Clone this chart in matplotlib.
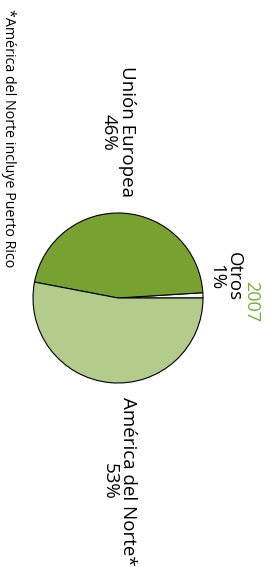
import matplotlib
matplotlib.use("Agg")
import matplotlib.pyplot as plt

# Export share by destination, 2007
labels = ["Otros", "Unión Europea", "América del Norte*"]
shares = [1, 46, 53]
colors = ["#f4f6f0", "#77a232", "#b3cb8b"]
year = "2007"
footnote = "*América del Norte incluye Puerto Rico"

plt.rcParams["font.family"] = ["Open Sans", "DejaVu Sans"]

fig = plt.figure(figsize=(2.68, 5.67), dpi=100)
ax = fig.add_axes([0, 0, 1, 1])
ax.set_xlim(0, 268)
ax.set_ylim(0, 567)
ax.set_aspect("equal")
ax.axis("off")

ax.pie(shares, colors=colors, startangle=0, counterclock=True,
       center=(118, 269), radius=85,
       wedgeprops={"edgecolor": "black", "linewidth": 0.8})
ax.set_xlim(0, 268)
ax.set_ylim(0, 567)

# labels, rotated like the reference
lab_pos = [(225, 290), (118, 435), (119, 86)]
for (x, y), lab, s in zip(lab_pos, labels, shares):
    ax.text(x, y, f"{lab}\n{s}%", rotation=-90, ha="center", va="center",
            fontsize=13.5, linespacing=1.0, color="black")

ax.text(251, 265, year, rotation=-90, ha="center", va="center",
        fontsize=13, color="#7aac38")

ax.text(8, 429, footnote, rotation=-90, ha="center", va="center",
        fontsize=10.3, color="black")

fig.savefig("out.png", dpi=100)
